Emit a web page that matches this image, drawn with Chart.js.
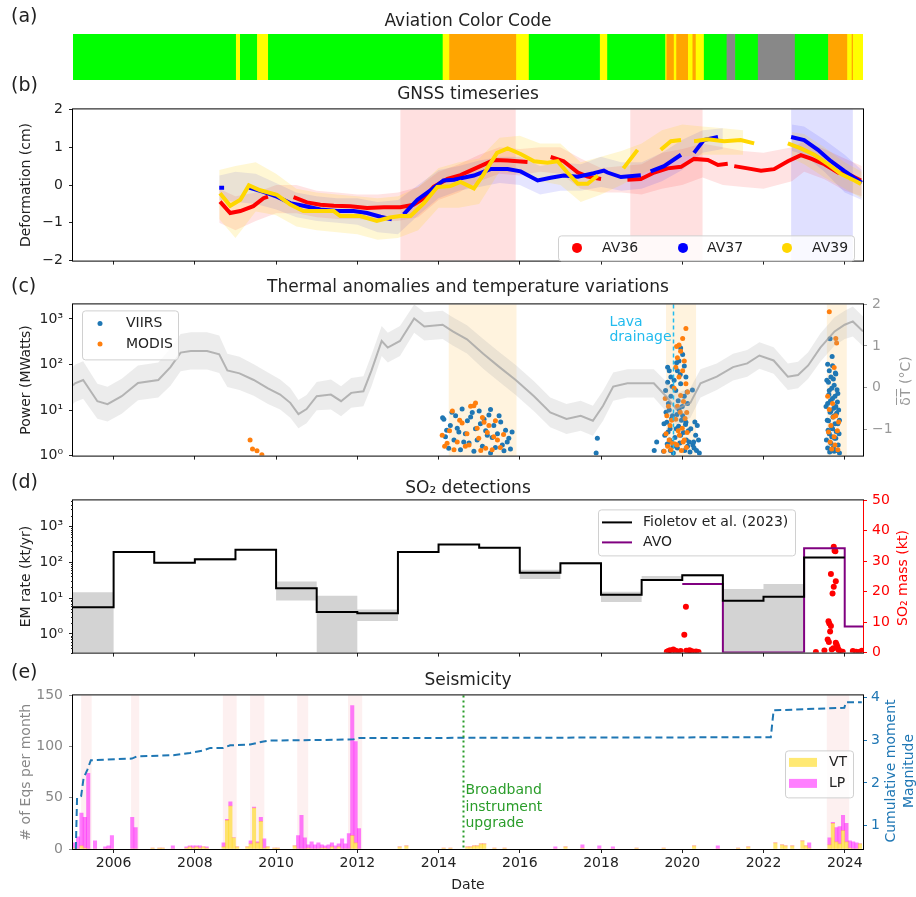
<!DOCTYPE html>
<html>
<head>
<meta charset="utf-8">
<script src="https://cdn.jsdelivr.net/npm/chart.js@4.4.1/dist/chart.umd.min.js"></script>
<style>
body { margin: 0; background: #fff; width: 916px; height: 897px; position: relative; overflow: hidden; font-family: 'DejaVu Sans', sans-serif; color: #222; }
canvas { position: absolute; left: 0; }
.ttl { position: absolute; left: 73px; width: 790px; text-align: center; font-size: 17px; line-height: 17px; white-space: nowrap; }
.pl { position: absolute; left: 11px; font-size: 19px; line-height: 19px; }
.rl { position: absolute; white-space: nowrap; font-size: 14px; line-height: 16px; transform: translate(-50%, -50%) rotate(-90deg); }
</style>
</head>
<body>
<canvas id="cA" width="916" height="90" style="top:0px"></canvas>
<canvas id="cB" width="916" height="180" style="top:95px"></canvas>
<canvas id="cC" width="916" height="180" style="top:290px"></canvas>
<canvas id="cD" width="916" height="181" style="top:486px"></canvas>
<canvas id="cE" width="916" height="216" style="top:681px"></canvas>

<div class="pl" style="top:6px">(a)</div>
<div class="pl" style="top:75px">(b)</div>
<div class="pl" style="top:276px">(c)</div>
<div class="pl" style="top:472px">(d)</div>
<div class="pl" style="top:662px">(e)</div>

<div class="ttl" style="top:12px">Aviation Color Code</div>
<div class="ttl" style="top:85px">GNSS timeseries</div>
<div class="ttl" style="top:278px">Thermal anomalies and temperature variations</div>
<div class="ttl" style="top:479px">SO₂ detections</div>
<div class="ttl" style="top:671px">Seismicity</div>

<div class="rl" style="left:905px;top:381px;color:#999">δ̅T̅ (°C)</div>
<div class="rl" style="left:902px;top:578px;color:#ff0000">SO₂ mass (kt)</div>
<div class="rl" style="left:890px;top:771px;color:#1f77b4">Cumulative moment</div>
<div class="rl" style="left:908px;top:771px;color:#1f77b4">Magnitude</div>

<script>
// shared time axis (decimal years)
const X_MIN = 2005.0, X_MAX = 2024.45;
const yearTicks = [2006, 2008, 2010, 2012, 2014, 2016, 2018, 2020, 2022, 2024];

// (a) aviation colour code periods
const accStart = [2005.0, 2009.02, 2009.12, 2009.54, 2009.81, 2014.11, 2014.27, 2015.92, 2016.23, 2017.98, 2018.16, 2019.59, 2019.62, 2019.80, 2019.86, 2020.15, 2020.26, 2020.34, 2020.54, 2021.10, 2021.31, 2021.87, 2022.78, 2023.60, 2024.07, 2024.18, 2024.21];
const accEnd   = [2009.02, 2009.12, 2009.54, 2009.81, 2014.11, 2014.27, 2015.92, 2016.23, 2017.98, 2018.16, 2019.59, 2019.62, 2019.80, 2019.86, 2020.15, 2020.26, 2020.34, 2020.54, 2021.10, 2021.31, 2021.87, 2022.78, 2023.60, 2024.07, 2024.18, 2024.21, 2024.47];
const accLevel = ['GREEN', 'YELLOW', 'GREEN', 'YELLOW', 'GREEN', 'YELLOW', 'ORANGE', 'YELLOW', 'GREEN', 'YELLOW', 'GREEN', 'YELLOW', 'ORANGE', 'YELLOW', 'ORANGE', 'YELLOW', 'ORANGE', 'YELLOW', 'GREEN', 'UNASSIGNED', 'GREEN', 'UNASSIGNED', 'GREEN', 'ORANGE', 'YELLOW', 'ORANGE', 'YELLOW'];

// (b) GNSS smoothed deformation (cm), null = no data
const av36Dates = [2008.62, 2008.87, 2009.12, 2009.44, 2009.69, 2009.80, 2010.10, 2010.43, 2010.76, 2011.09, 2011.42, 2011.83, 2012.24, 2012.65, 2013.06, 2013.39, 2013.64, 2013.88, 2014.22, 2014.54, 2015.03, 2015.36, 2015.70, 2016.19, 2016.45, 2016.76, 2017.08, 2017.43, 2017.67, 2018.00, 2018.30, 2018.65, 2018.98, 2019.31, 2019.64, 2019.97, 2020.29, 2020.63, 2020.88, 2021.12, 2021.20, 2021.28, 2021.61, 2021.94, 2022.26, 2022.60, 2022.92, 2023.17, 2023.50, 2023.84, 2024.16, 2024.40];
const av36Vals  = [-0.44, -0.74, -0.69, -0.56, -0.35, -0.31, null, -0.32, -0.46, -0.52, -0.55, -0.56, -0.61, -0.59, -0.59, -0.52, -0.35, -0.05, 0.16, 0.26, 0.50, 0.66, 0.65, 0.61, null, 0.74, 0.63, 0.33, 0.22, 0.16, null, 0.14, 0.16, 0.33, 0.44, 0.48, 0.69, 0.66, 0.53, 0.56, null, 0.50, 0.44, 0.38, 0.42, 0.63, 0.79, 0.70, 0.55, 0.33, 0.25, 0.12];
const av37Dates = [2008.60, 2008.72, 2008.80, 2009.33, 2009.69, 2010.02, 2010.35, 2010.67, 2011.09, 2011.50, 2011.91, 2012.24, 2012.57, 2012.85, 2012.95, 2013.14, 2013.48, 2013.80, 2014.12, 2014.38, 2014.87, 2015.28, 2015.70, 2016.02, 2016.44, 2016.76, 2017.08, 2017.43, 2017.82, 2018.07, 2018.16, 2018.49, 2018.98, 2019.10, 2019.22, 2019.55, 2019.97, 2020.10, 2020.29, 2020.53, 2020.88, 2021.00, 2022.68, 2023.00, 2023.34, 2023.66, 2023.98, 2024.33, 2024.42];
const av37Vals  = [-0.07, -0.07, null, -0.07, -0.18, -0.31, -0.48, -0.55, -0.65, -0.69, -0.69, -0.74, -0.84, -0.91, null, -0.78, -0.39, -0.14, 0.12, 0.14, 0.25, 0.42, 0.42, 0.36, 0.12, 0.19, 0.25, 0.22, 0.31, 0.38, 0.33, 0.21, 0.26, null, 0.36, 0.50, 0.80, null, 0.85, 1.19, 1.27, null, 1.27, 1.19, 0.93, 0.63, 0.38, 0.12, 0.06];
const av39Dates = [2008.62, 2008.87, 2009.12, 2009.33, 2009.61, 2010.02, 2010.35, 2010.67, 2011.00, 2011.42, 2011.58, 2012.07, 2012.48, 2012.80, 2013.06, 2013.31, 2013.64, 2013.97, 2014.29, 2014.54, 2014.87, 2015.11, 2015.44, 2015.70, 2016.02, 2016.35, 2016.68, 2016.93, 2017.17, 2017.43, 2017.67, 2017.92, 2018.10, 2018.55, 2018.90, 2019.10, 2019.47, 2019.72, 2019.97, 2020.10, 2020.29, 2020.63, 2021.03, 2021.44, 2021.77, 2022.00, 2022.60, 2022.92, 2023.25, 2023.59, 2023.91, 2024.24, 2024.40];
const av39Vals  = [-0.22, -0.55, -0.39, -0.01, -0.14, -0.26, -0.52, -0.69, -0.69, -0.69, -0.82, -0.82, -0.95, -0.86, -0.82, -0.82, -0.48, -0.05, -0.03, 0.08, -0.09, 0.29, 0.85, 0.97, 0.82, 0.63, 0.59, 0.63, 0.33, 0.03, 0.03, 0.25, null, 0.44, 0.93, null, 0.93, 1.16, 1.19, null, 1.16, 1.21, 1.16, 1.19, 1.10, null, 1.10, 0.97, 0.80, 0.55, 0.29, 0.12, 0.03];

// (b) spread of the daily GNSS solutions around each station
const gnssBandDates = [2008.6, 2009.0, 2009.5, 2010.0, 2010.5, 2011.0, 2011.5, 2012.0, 2012.5, 2013.0, 2013.5, 2014.0, 2014.5, 2015.0, 2015.5, 2016.0, 2016.5, 2017.0, 2017.5, 2018.0, 2018.5, 2019.0, 2019.5, 2020.0, 2020.5, 2021.0, 2021.5, 2022.0, 2022.7, 2023.0, 2023.5, 2024.0, 2024.42];
const av36Hi = [-0.1, -0.3, -0.2, 0.0, 0.0, -0.15, -0.2, -0.25, -0.25, -0.2, -0.05, 0.35, 0.55, 0.8, 1.0, 0.95, 1.0, 1.0, 0.7, 0.45, 0.5, 0.55, 0.85, 0.95, 1.1, 1.0, 0.9, 0.85, 1.0, 1.15, 0.95, 0.7, 0.5];
const av36Lo = [-1.0, -1.2, -0.95, -0.75, -0.75, -0.85, -0.9, -0.9, -0.95, -0.95, -0.85, -0.4, -0.2, 0.1, 0.3, 0.25, 0.35, 0.3, -0.1, -0.2, -0.2, -0.25, -0.1, 0.0, 0.2, 0.0, -0.05, -0.1, 0.1, 0.35, 0.15, -0.15, -0.3];
const av37Hi = [0.25, 0.35, 0.3, 0.05, -0.2, -0.3, -0.35, -0.35, -0.45, -0.4, 0.0, 0.4, 0.5, 0.65, 0.75, 0.75, 0.5, 0.6, 0.55, 0.75, 0.6, 0.6, 0.85, 1.2, 1.45, 1.5, null, null, 1.6, 1.55, 1.2, 0.8, 0.4];
const av37Lo = [-0.4, -0.45, -0.5, -0.65, -0.85, -0.95, -1.0, -1.05, -1.25, -1.3, -0.8, -0.35, -0.15, -0.05, 0.05, 0.0, -0.25, -0.15, -0.15, -0.05, -0.15, -0.1, 0.1, 0.4, 0.85, 0.95, null, null, 0.9, 0.8, 0.35, -0.2, -0.4];
const av39Hi = [0.4, 0.5, 0.6, 0.3, -0.1, -0.2, -0.25, -0.3, -0.35, -0.3, -0.05, 0.45, 0.6, 0.7, 1.25, 1.3, 1.1, 1.1, 0.6, 0.75, 0.9, 1.1, 1.45, 1.6, 1.55, 1.5, 1.45, null, 1.4, 1.35, 1.0, 0.6, 0.35];
const av39Lo = [-0.9, -1.4, -0.7, -0.8, -1.1, -1.2, -1.25, -1.3, -1.45, -1.4, -1.2, -0.6, -0.6, -0.5, 0.35, 0.3, 0.1, 0.0, -0.45, -0.25, 0.0, 0.3, 0.5, 0.75, 0.8, 0.8, 0.8, null, 0.7, 0.55, 0.2, -0.1, -0.35];

// (c) running temperature anomaly (deg C) and its spread
const dtDates = [2005.00, 2005.05, 2005.25, 2005.60, 2005.85, 2006.20, 2006.60, 2007.10, 2007.40, 2007.65, 2007.90, 2008.30, 2008.60, 2008.80, 2009.10, 2009.45, 2009.80, 2010.10, 2010.35, 2010.55, 2010.75, 2011.00, 2011.35, 2011.60, 2011.85, 2012.15, 2012.35, 2012.60, 2012.75, 2013.05, 2013.40, 2013.65, 2014.10, 2014.35, 2014.70, 2015.10, 2015.50, 2015.90, 2016.35, 2016.75, 2017.15, 2017.50, 2017.80, 2018.05, 2018.30, 2018.65, 2018.95, 2019.30, 2019.60, 2019.85, 2020.20, 2020.45, 2020.85, 2021.25, 2021.60, 2021.90, 2022.25, 2022.60, 2022.85, 2023.10, 2023.40, 2023.75, 2024.00, 2024.20, 2024.45];
const dtVals  = [0.05, 0.10, 0.18, -0.33, -0.40, -0.21, 0.11, 0.18, 0.49, 0.84, 0.88, 0.88, 0.80, 0.41, 0.34, 0.18, -0.02, -0.17, -0.37, -0.64, -0.52, -0.21, -0.17, -0.33, -0.13, -0.09, 0.41, 1.12, 0.96, 1.12, 1.66, 1.47, 1.51, 1.35, 1.16, 0.81, 0.49, 0.18, -0.21, -0.60, -0.76, -0.68, -0.80, -0.44, 0.02, 0.10, 0.10, 0.10, -0.21, -0.52, -0.37, 0.10, 0.26, 0.49, 0.58, 0.77, 0.65, 0.26, 0.30, 0.53, 0.96, 1.35, 1.51, 1.59, 1.35];
const dtHalf  = [0.45, 0.45, 0.45, 0.42, 0.42, 0.42, 0.42, 0.42, 0.45, 0.45, 0.45, 0.45, 0.45, 0.40, 0.40, 0.38, 0.38, 0.36, 0.36, 0.34, 0.34, 0.34, 0.36, 0.36, 0.36, 0.36, 0.38, 0.36, 0.36, 0.36, 0.34, 0.34, 0.34, 0.34, 0.34, 0.36, 0.36, 0.36, 0.36, 0.36, 0.36, 0.36, 0.36, 0.36, 0.34, 0.34, 0.34, 0.34, 0.36, 0.38, 0.36, 0.34, 0.32, 0.32, 0.32, 0.32, 0.32, 0.32, 0.32, 0.32, 0.34, 0.34, 0.34, 0.36, 0.36];

// (c) radiant power detections [date, MW]
const viirsPts = [
  [2014.10, 6.8], [2014.13, 6.3], [2014.17, 2.6], [2014.20, 3.6], [2014.25, 1.45], [2014.29, 4.6], [2014.33, 8.9], [2014.38, 2.2], [2014.42, 7.5], [2014.46, 4.0],
  [2014.50, 3.3], [2014.54, 1.34], [2014.58, 10.5], [2014.62, 2.0], [2014.66, 3.0], [2014.71, 5.8], [2014.75, 1.9], [2014.79, 7.0], [2014.83, 8.8], [2014.87, 1.24],
  [2014.91, 3.9], [2014.95, 2.2], [2015.00, 9.5], [2015.03, 5.0], [2015.08, 1.6], [2015.12, 6.3], [2015.16, 3.5], [2015.20, 2.8], [2015.24, 7.8], [2015.28, 10.3],
  [2015.28, 1.14], [2015.32, 2.5], [2015.36, 4.6], [2015.40, 1.5], [2015.45, 3.0], [2015.49, 7.5], [2015.53, 5.5], [2015.57, 1.7], [2015.61, 1.28], [2015.65, 3.6],
  [2015.69, 2.0], [2015.73, 2.4], [2015.77, 1.4], [2015.81, 3.3],
  [2017.88, 1.14], [2017.91, 2.4], [2019.31, 1.3], [2019.37, 2.0],
  [2019.54, 1.24], [2019.55, 5.0], [2019.57, 2.8], [2019.59, 27], [2019.60, 9], [2019.62, 5.4], [2019.63, 1.8], [2019.64, 87], [2019.64, 41], [2019.65, 3.3],
  [2019.66, 14], [2019.68, 73], [2019.68, 10], [2019.69, 2.2], [2019.70, 3.9], [2019.71, 1.3], [2019.72, 53], [2019.72, 20], [2019.73, 2.0], [2019.74, 6.5],
  [2019.75, 33], [2019.76, 7.5], [2019.77, 1.6], [2019.78, 1.14],
  [2019.80, 45], [2019.82, 2.5], [2019.84, 27], [2019.85, 3.9], [2019.86, 110], [2019.87, 8], [2019.88, 73], [2019.88, 1.46], [2019.90, 16], [2019.91, 4.4],
  [2019.92, 120], [2019.92, 10.3], [2019.94, 1.9], [2019.95, 60], [2019.96, 230], [2019.96, 38], [2019.96, 2.8], [2019.98, 6], [2020.00, 12], [2020.01, 166],
  [2020.01, 7.5], [2020.03, 3.2], [2020.05, 93], [2020.05, 20], [2020.06, 1.3], [2020.08, 4.8], [2020.09, 53], [2020.09, 5.4], [2020.10, 2.2], [2020.12, 25],
  [2020.13, 14], [2020.13, 1.6], [2020.15, 3.5], [2020.17, 2.0], [2020.19, 1.2], [2020.21, 3.9], [2020.25, 27.5], [2020.26, 1.7], [2020.28, 2.0], [2020.29, 1.46],
  [2020.31, 5.5], [2020.33, 2.8], [2020.35, 1.3], [2020.37, 4.6], [2020.40, 2.2], [2020.42, 1.14],
  [2023.54, 12], [2023.55, 2.2], [2023.56, 45], [2023.57, 6], [2023.58, 101], [2023.58, 14], [2023.58, 1.46], [2023.59, 3.6], [2023.60, 41], [2023.60, 5.8],
  [2023.61, 22], [2023.62, 73], [2023.62, 27], [2023.62, 3.0], [2023.63, 1.2], [2023.64, 9], [2023.64, 370], [2023.65, 16], [2023.66, 53], [2023.66, 9.5],
  [2023.66, 1.86], [2023.67, 4.4], [2023.68, 30], [2023.68, 2.6], [2023.69, 150], [2023.70, 94], [2023.70, 18], [2023.70, 3.9], [2023.71, 7], [2023.72, 1.5],
  [2023.72, 48], [2023.73, 11], [2023.74, 35], [2023.74, 7.5], [2023.74, 1.24], [2023.75, 2.4], [2023.76, 20], [2023.76, 5.0], [2023.77, 65], [2023.78, 12],
  [2023.78, 62], [2023.78, 2.4], [2023.79, 3.4], [2023.80, 8.5], [2023.80, 1.3], [2023.81, 28], [2023.82, 15], [2023.83, 23], [2023.83, 5.0], [2023.84, 1.7],
  [2023.85, 10], [2023.86, 3.0], [2023.87, 1.14], [2023.87, 6]
];
const modisPts = [
  [2009.36, 2.2], [2009.42, 1.39], [2009.53, 1.28], [2009.65, 1.05],
  [2014.09, 2.8], [2014.15, 1.6], [2014.21, 1.86], [2014.27, 3.5], [2014.34, 9.5], [2014.38, 1.34], [2014.46, 2.0], [2014.52, 6.0], [2014.58, 5.2], [2014.66, 1.6],
  [2014.70, 3.0], [2014.75, 1.7], [2014.79, 12.2], [2014.87, 12.5], [2014.91, 14.3], [2014.95, 4.0], [2014.99, 2.4], [2015.04, 1.3], [2015.08, 6.9], [2015.12, 5.4],
  [2015.16, 1.45], [2015.20, 3.2], [2015.24, 4.6], [2015.32, 1.34], [2015.36, 2.6], [2015.40, 5.8], [2015.45, 2.2], [2015.52, 1.5], [2015.60, 2.9],
  [2019.55, 1.24], [2019.58, 18], [2019.60, 3.0], [2019.62, 7.5], [2019.64, 1.6], [2019.66, 12.2], [2019.68, 2.2], [2019.70, 4.6], [2019.72, 1.34], [2019.74, 6],
  [2019.76, 1.86], [2019.80, 30], [2019.82, 1.8], [2019.84, 87], [2019.84, 6.3], [2019.86, 250], [2019.87, 1.7], [2019.88, 140], [2019.88, 12.2], [2019.90, 3.5],
  [2019.92, 270], [2019.92, 53], [2019.93, 2.8], [2019.95, 9], [2019.96, 195], [2019.96, 21], [2019.98, 1.3], [2020.00, 4.0], [2020.01, 375], [2020.01, 73],
  [2020.02, 2.0], [2020.03, 15.5], [2020.05, 120], [2020.05, 2.2], [2020.07, 6.5], [2020.09, 615], [2020.09, 38], [2020.10, 1.5], [2020.11, 8.8], [2020.12, 3.2],
  [2020.13, 25],
  [2023.58, 20], [2023.60, 3.3], [2023.62, 1440], [2023.62, 10.3], [2023.64, 2.0], [2023.66, 4.6], [2023.68, 1.4], [2023.70, 14], [2023.72, 7.0], [2023.74, 86],
  [2023.74, 2.6], [2023.76, 1.7], [2023.78, 375], [2023.78, 7.5], [2023.80, 295], [2023.82, 3.5], [2023.83, 1.34], [2023.85, 5.5]
];

// (d) yearly SO2 emission rate (kt/yr) with its uncertainty range
const emYears = [2005, 2006, 2007, 2008, 2009, 2010, 2011, 2012, 2013, 2014, 2015, 2016, 2017, 2018, 2019, 2020, 2021, 2022, 2023, 2024];
const emRate  = [5.5, 193, 97, 120, 224, 18.8, 4.1, 3.76, 193, 311, 253, 51, 94, 12.4, 32, 43, 8.4, 10.8, 135, 135];
const emLo    = [0.1, 185, 92, 108, 215, 8.5, 0.1, 2.3, 185, 300, 245, 34, 86, 7.8, 30, 40, 0.1, 0.1, 128, 128];
const emHi    = [14.5, 200, 100, 128, 232, 29, 11.5, 4.8, 200, 322, 262, 62, 100, 15, 41, 47, 18, 24.5, 140, 140];
// AVO yearly SO2 mass (kt)
const avoYears = [2020, 2021, 2022, 2023, 2024, 2024.45];
const avoMass  = [22.5, 0, 0, 34.3, 8.6, 8.6];
// individual SO2 mass detections (kt)
const so2Dates = [2019.62, 2019.66, 2019.70, 2019.74, 2019.78, 2019.84, 2019.90, 2019.96, 2020.05, 2020.09, 2020.10, 2020.14, 2020.18, 2020.22, 2020.28, 2020.34, 2020.40, 2023.29, 2023.50, 2023.58, 2023.60, 2023.61, 2023.62, 2023.64, 2023.66, 2023.66, 2023.68, 2023.70, 2023.72, 2023.73, 2023.73, 2023.75, 2023.77, 2023.78, 2023.78, 2023.80, 2023.82, 2023.84, 2023.86, 2023.90, 2023.95, 2024.20, 2024.28, 2024.35, 2024.42];
const so2Mass  = [0.3, 0.5, 0.8, 0.4, 1.0, 0.6, 0.3, 0.5, 5.9, 15.1, 0.6, 0.3, 0.8, 0.5, 0.3, 0.4, 0.2, 0.2, 0.7, 4.3, 10.3, 3.5, 9.6, 6.9, 8.7, 25.8, 1.0, 19.4, 1.4, 21.6, 34.8, 33.5, 33.3, 23.4, 3.2, 2.7, 1.9, 1.1, 0.7, 0.4, 0.3, 0.5, 0.3, 0.2, 0.6];

// (e) monthly earthquake counts (month centres)
const eqMonths = [2005.042, 2005.125, 2005.208, 2005.292, 2005.375, 2005.542, 2005.792, 2005.875, 2005.958, 2006.458, 2006.542, 2006.958, 2007.125, 2007.208, 2007.458, 2007.792, 2007.875, 2007.958, 2008.042, 2008.125, 2008.208, 2008.292, 2008.708, 2008.792, 2008.875, 2008.958, 2009.042, 2009.292, 2009.375, 2009.458, 2009.542, 2009.625, 2009.708, 2009.792, 2009.958, 2010.042, 2010.458, 2010.542, 2010.625, 2010.708, 2010.792, 2010.875, 2010.958, 2011.042, 2011.125, 2011.208, 2011.292, 2011.375, 2011.458, 2011.542, 2011.625, 2011.708, 2011.792, 2011.875, 2011.958, 2012.042, 2013.042, 2013.208, 2014.125, 2014.292, 2014.708, 2014.792, 2014.875, 2014.958, 2015.042, 2015.125, 2015.375, 2015.625, 2016.875, 2017.125, 2017.542, 2017.958, 2018.292, 2018.875, 2019.542, 2020.292, 2020.875, 2021.375, 2021.625, 2022.292, 2022.458, 2022.542, 2022.708, 2022.958, 2023.042, 2023.125, 2023.625, 2023.708, 2023.792, 2023.875, 2023.958, 2024.042, 2024.125, 2024.208, 2024.292, 2024.375];
const vtCounts = [1, 0, 3, 1, 0, 0, 0, 0, 0, 0, 0, 1, 1, 1, 0, 1, 2, 1, 2, 1, 2, 1, 2, 28, 42, 11, 2, 2, 5, 40, 6, 27, 1, 2, 1, 1, 3, 0, 0, 0, 1, 0, 0, 0, 1, 1, 0, 2, 0, 2, 0, 0, 0, 13, 6, 0, 2, 3, 1, 1, 2, 2, 3, 3, 5, 5, 1, 1, 0, 2, 1, 0, 0, 1, 1, 3, 0, 1, 2, 6, 4, 3, 3, 8, 3, 1, 4, 25, 7, 5, 18, 7, 1, 0, 0, 5];
const lpCounts = [5, 12, 32, 30, 74, 8, 2, 3, 13, 31, 21, 0, 0, 0, 3, 1, 1, 2, 1, 2, 0, 1, 4, 1, 4, 0, 0, 0, 3, 1, 1, 4, 9, 0, 0, 0, 0, 13, 33, 11, 3, 7, 4, 6, 3, 2, 4, 4, 3, 3, 10, 5, 15, 127, 99, 20, 0, 0, 0, 0, 0, 0, 0, 0, 0, 0, 0, 0, 2, 0, 3, 3, 2, 0, 0, 0, 3, 0, 0, 0, 0, 0, 0, 0, 0, 5, 7, 1, 14, 17, 15, 18, 7, 7, 6, 0];
// cumulative moment magnitude
const mwDates = [2005.07, 2005.10, 2005.20, 2005.26, 2005.35, 2005.44, 2006.45, 2006.57, 2007.47, 2007.88, 2008.21, 2008.38, 2008.70, 2008.87, 2009.36, 2009.69, 2009.82, 2011.42, 2011.91, 2012.04, 2022.18, 2022.25, 2023.99, 2024.03, 2024.42];
const mwVals  = [0.45, 1.65, 1.69, 2.11, 2.30, 2.53, 2.57, 2.62, 2.65, 2.70, 2.76, 2.82, 2.82, 2.88, 2.90, 2.97, 2.99, 3.01, 3.02, 3.05, 3.07, 3.70, 3.76, 3.89, 3.89];

// event markers
const lavaDrainage = 2019.76;
const broadbandUpgrade = 2014.61;

// ---------------------------------------------------------------
Chart.defaults.font.family = "'DejaVu Sans', sans-serif";
Chart.defaults.font.size = 14;
Chart.defaults.color = '#222';

const levelColors = { GREEN: '#00ff00', YELLOW: '#ffff00', ORANGE: '#ffa500', UNASSIGNED: '#888888' };
const supLabel = { 1: '10⁰', 10: '10¹', 100: '10²', 1000: '10³' };
const minus = v => (v < 0 ? '−' + Math.abs(v) : String(v));
const pts = (xs, ys) => xs.map((x, i) => ({ x: x, y: ys[i] }));
const pairs = arr => arr.map(p => ({ x: p[0], y: p[1] }));

const baseOpts = {
  responsive: false,
  animation: false,
  events: [],
  plugins: { legend: { display: false }, tooltip: { enabled: false } }
};

function xAxis(h, labelled) {
  return {
    type: 'linear', min: X_MIN, max: X_MAX, offset: false,
    afterBuildTicks: s => { s.ticks = yearTicks.map(v => ({ value: v })); },
    afterFit: s => { s.height = h; },
    grid: { display: true, drawOnChartArea: false, drawTicks: true, tickLength: 4, color: '#222', offset: false },
    border: { display: false },
    ticks: { display: labelled, color: '#222', padding: 2, maxRotation: 0, autoSkip: false, callback: v => String(v) },
    title: labelled ? { display: true, text: 'Date', color: '#222', padding: { top: 0, bottom: 3 } } : { display: false }
  };
}

function sideAxis(side, color, extra) {
  const ax = {
    position: side,
    afterFit: s => { s.width = side === 'left' ? 73 : 53; },
    grid: { display: true, drawOnChartArea: false, drawTicks: true, tickLength: 4, color: color },
    border: { display: false },
    ticks: { color: color, padding: side === 'left' ? 6 : 4 }
  };
  return Object.assign(ax, extra);
}

function yTitle(text, color) {
  return { display: true, text: text, color: color, padding: { top: 18, bottom: 0 } };
}

// spans, marker lines, frame and hand-placed legends
function extras(cfg) {
  return {
    id: 'extras',
    beforeDatasetsDraw(chart) {
      const { ctx, chartArea: a, scales: { x } } = chart;
      ctx.save();
      (cfg.spans || []).forEach(s => {
        const x0 = x.getPixelForValue(s[0]), x1 = x.getPixelForValue(s[1]);
        ctx.fillStyle = s[2];
        ctx.fillRect(x0, a.top, x1 - x0, a.bottom - a.top);
      });
      ctx.restore();
    },
    afterDatasetsDraw(chart) {
      const { ctx, chartArea: a, scales: { x } } = chart;
      ctx.save();
      (cfg.vlines || []).forEach(v => {
        const px = Math.round(x.getPixelForValue(v.x)) + 0.5;
        ctx.strokeStyle = v.color;
        ctx.lineWidth = v.width;
        ctx.setLineDash(v.dash);
        ctx.beginPath();
        ctx.moveTo(px, a.top);
        ctx.lineTo(px, a.bottom);
        ctx.stroke();
        ctx.setLineDash([]);
        if (v.lines) {
          ctx.font = "14px 'DejaVu Sans'";
          ctx.fillStyle = v.color;
          ctx.textBaseline = 'middle';
          ctx.textAlign = 'left';
          let tx = px + v.dx;
          if (v.dx < 0) tx = px + v.dx - Math.max(...v.lines.map(t => ctx.measureText(t).width));
          v.lines.forEach((t, i) => ctx.fillText(t, tx, a.top + v.dy[i]));
        }
      });
      ctx.restore();
    },
    afterDraw(chart) {
      const { ctx, chartArea: a, scales } = chart;
      ctx.save();
      if (cfg.frame) {
        ctx.strokeStyle = '#000';
        ctx.lineWidth = 1;
        ctx.strokeRect(a.left - 0.5, a.top - 0.5, a.right - a.left + 1, a.bottom - a.top + 1);
      }
      if (cfg.rightSpine) {
        ctx.strokeStyle = cfg.rightSpine;
        ctx.beginPath();
        ctx.moveTo(a.right + 0.5, a.top);
        ctx.lineTo(a.right + 0.5, a.bottom);
        ctx.stroke();
      }
      if (cfg.minorLog) {
        const y = scales.y;
        ctx.strokeStyle = '#222';
        ctx.lineWidth = 1;
        for (let k = -1; k <= 3; k++) {
          for (let m = 2; m <= 9; m++) {
            const v = m * Math.pow(10, k);
            if (v < y.min || v > y.max) continue;
            const py = Math.round(y.getPixelForValue(v)) + 0.5;
            ctx.beginPath();
            ctx.moveTo(a.left - 2, py);
            ctx.lineTo(a.left, py);
            ctx.stroke();
          }
        }
      }
      if (cfg.legend) drawLegend(ctx, a, cfg.legend);
      ctx.restore();
    }
  };
}

function drawLegend(ctx, a, lg) {
  const left = lg.right != null ? a.right - lg.right - lg.w : a.left + lg.left;
  const top = a.top + lg.top;
  ctx.fillStyle = 'rgba(255,255,255,0.8)';
  ctx.strokeStyle = '#d0d0d0';
  ctx.lineWidth = 1;
  ctx.beginPath();
  ctx.roundRect(left + 0.5, top + 0.5, lg.w, lg.h, 3);
  ctx.fill();
  ctx.stroke();
  ctx.font = "14px 'DejaVu Sans'";
  ctx.textBaseline = 'middle';
  ctx.textAlign = 'left';
  lg.items.forEach(it => {
    const mx = left + it.mx, my = top + it.my;
    if (it.kind === 'dot') {
      ctx.fillStyle = it.color;
      ctx.beginPath();
      ctx.arc(mx, my, it.r, 0, Math.PI * 2);
      ctx.fill();
    } else if (it.kind === 'line') {
      ctx.strokeStyle = it.color;
      ctx.lineWidth = 2;
      ctx.beginPath();
      ctx.moveTo(mx, my);
      ctx.lineTo(mx + 30, my);
      ctx.stroke();
    } else {
      ctx.fillStyle = it.color;
      ctx.fillRect(mx, my - 4.5, 28, 9);
    }
    ctx.fillStyle = '#222';
    ctx.fillText(it.label, left + it.tx, my);
  });
}

// ---------------- (a) aviation colour code ----------------
new Chart(document.getElementById('cA'), {
  type: 'bar',
  data: {
    labels: ['code'],
    datasets: [{
      data: accStart.map((s, i) => ({ x: [s, accEnd[i]], y: 'code' })),
      backgroundColor: accLevel.map(l => levelColors[l]),
      borderWidth: 0,
      barPercentage: 1,
      categoryPercentage: 1,
      grouped: false
    }]
  },
  options: Object.assign({}, baseOpts, {
    indexAxis: 'y',
    layout: { padding: { left: 73, right: 53, top: 34, bottom: 10 } },
    scales: {
      x: { type: 'linear', min: X_MIN, max: X_MAX, offset: false, display: false },
      y: { type: 'category', display: false }
    }
  })
});

// ---------------- (b) GNSS ----------------
const RED = '#ff0000', BLUE = '#0000ff', GOLD = '#ffd700';
function gnssLine(xs, ys, color) {
  return { data: pts(xs, ys), borderColor: color, borderWidth: 4, pointRadius: 0, fill: false, spanGaps: false };
}
function gnssBand(ys, color, fill) {
  return { data: pts(gnssBandDates, ys), borderWidth: 0, pointRadius: 0, backgroundColor: color, fill: fill, spanGaps: false };
}
new Chart(document.getElementById('cB'), {
  type: 'line',
  data: {
    datasets: [
      gnssLine(av39Dates, av39Vals, GOLD),
      gnssLine(av37Dates, av37Vals, BLUE),
      gnssLine(av36Dates, av36Vals, RED),
      gnssBand(av39Hi, 'rgba(255,205,0,0.17)', '+1'),
      gnssBand(av39Lo, 'rgba(255,205,0,0.17)', false),
      gnssBand(av37Hi, 'rgba(0,0,255,0.10)', '+1'),
      gnssBand(av37Lo, 'rgba(0,0,255,0.10)', false),
      gnssBand(av36Hi, 'rgba(255,0,0,0.11)', '+1'),
      gnssBand(av36Lo, 'rgba(255,0,0,0.11)', false)
    ]
  },
  options: Object.assign({}, baseOpts, {
    layout: { padding: { top: 12, right: 53 } },
    scales: {
      x: xAxis(12, false),
      y: sideAxis('left', '#222', {
        min: -2, max: 2,
        ticks: { color: '#222', padding: 6, stepSize: 1, callback: minus },
        title: yTitle('Deformation (cm)', '#222')
      })
    }
  }),
  plugins: [extras({
    frame: true,
    spans: [[2013.06, 2015.90, 'rgba(255,0,0,0.12)'], [2018.72, 2020.50, 'rgba(255,0,0,0.12)'], [2022.68, 2024.20, 'rgba(0,0,255,0.12)']],
    legend: {
      right: 9, top: 126, w: 296, h: 25,
      items: [
        { kind: 'dot', r: 5, color: RED, mx: 19, my: 12.5, tx: 44, label: 'AV36' },
        { kind: 'dot', r: 5, color: BLUE, mx: 125, my: 12.5, tx: 149, label: 'AV37' },
        { kind: 'dot', r: 5, color: GOLD, mx: 229, my: 12.5, tx: 254, label: 'AV39' }
      ]
    }
  })]
});

// ---------------- (c) thermal ----------------
const VIIRS = '#1f77b4', MODIS = '#ff7f0e';
new Chart(document.getElementById('cC'), {
  type: 'line',
  data: {
    datasets: [
      { data: pts(dtDates, dtVals), yAxisID: 'y2', borderColor: 'rgba(160,160,160,0.75)', borderWidth: 2, pointRadius: 0, fill: false },
      { data: pts(dtDates, dtVals.map((v, i) => v + dtHalf[i])), yAxisID: 'y2', borderWidth: 0, pointRadius: 0, backgroundColor: 'rgba(170,170,170,0.22)', fill: '+1' },
      { data: pts(dtDates, dtVals.map((v, i) => v - dtHalf[i])), yAxisID: 'y2', borderWidth: 0, pointRadius: 0, fill: false },
      { data: pairs(modisPts), yAxisID: 'y', showLine: false, pointRadius: 2.5, pointBorderWidth: 0, pointBackgroundColor: MODIS },
      { data: pairs(viirsPts), yAxisID: 'y', showLine: false, pointRadius: 2.5, pointBorderWidth: 0, pointBackgroundColor: VIIRS }
    ]
  },
  options: Object.assign({}, baseOpts, {
    layout: { padding: { top: 12 } },
    scales: {
      x: xAxis(12, false),
      y: sideAxis('left', '#222', {
        type: 'logarithmic', min: 1, max: 2090,
        afterBuildTicks: s => { s.ticks = [1, 10, 100, 1000].map(v => ({ value: v })); },
        ticks: { color: '#222', padding: 6, callback: v => supLabel[v] },
        title: yTitle('Power (MWatts)', '#222')
      }),
      y2: sideAxis('right', '#999', {
        min: -1.64, max: 2.0,
        afterBuildTicks: s => { s.ticks = [-1, 0, 1, 2].map(v => ({ value: v })); },
        ticks: { color: '#999', padding: 5, callback: minus }
      })
    }
  }),
  plugins: [extras({
    frame: true,
    spans: [[2014.25, 2015.92, 'rgba(255,165,0,0.13)'], [2019.60, 2020.34, 'rgba(255,165,0,0.13)'], [2023.56, 2024.05, 'rgba(255,165,0,0.13)']],
    vlines: [{ x: lavaDrainage, color: '#22bbee', width: 1.5, dash: [4, 3], lines: ['Lava', 'drainage'], dx: -2, dy: [18, 33] }],
    legend: {
      left: 9, top: 6, w: 96, h: 49,
      items: [
        { kind: 'dot', r: 2.5, color: VIIRS, mx: 18, my: 13, tx: 44, label: 'VIIRS' },
        { kind: 'dot', r: 2.5, color: MODIS, mx: 18, my: 33.5, tx: 44, label: 'MODIS' }
      ]
    }
  })]
});

// ---------------- (d) SO2 ----------------
// stepped 'before' keeps each yearly value until the next year's edge
new Chart(document.getElementById('cD'), {
  type: 'line',
  data: {
    datasets: [
      { data: pts(emYears, emRate), yAxisID: 'y', stepped: 'before', borderColor: '#000', borderWidth: 2, pointRadius: 0, fill: false },
      { data: pts(avoYears, avoMass), yAxisID: 'y2', stepped: 'before', borderColor: '#800080', borderWidth: 2, pointRadius: 0, fill: false, clip: 0 },
      { data: pts(so2Dates, so2Mass), yAxisID: 'y2', showLine: false, pointRadius: 3, pointBorderWidth: 0, pointBackgroundColor: '#ff0000' },
      { data: pts(emYears, emHi), yAxisID: 'y', stepped: 'before', borderWidth: 0, pointRadius: 0, backgroundColor: '#d3d3d3', fill: '+1' },
      { data: pts(emYears, emLo), yAxisID: 'y', stepped: 'before', borderWidth: 0, pointRadius: 0, fill: false }
    ]
  },
  options: Object.assign({}, baseOpts, {
    layout: { padding: { top: 12 } },
    scales: {
      x: xAxis(12, false),
      y: sideAxis('left', '#222', {
        type: 'logarithmic', min: 0.32, max: 5300,
        afterBuildTicks: s => { s.ticks = [1, 10, 100, 1000].map(v => ({ value: v })); },
        ticks: { color: '#222', padding: 6, callback: v => supLabel[v] },
        title: yTitle('EM rate (kt/yr)', '#222')
      }),
      y2: sideAxis('right', '#ff0000', {
        min: 0, max: 50,
        ticks: { color: '#ff0000', padding: 5, stepSize: 10 }
      })
    }
  }),
  plugins: [extras({
    frame: true,
    rightSpine: '#ff0000',
    minorLog: true,
    legend: {
      right: 68, top: 9, w: 197, h: 46,
      items: [
        { kind: 'line', color: '#000', mx: 4, my: 13, tx: 45, label: 'Fioletov et al. (2023)' },
        { kind: 'line', color: '#800080', mx: 4, my: 33, tx: 45, label: 'AVO' }
      ]
    }
  })]
});

// ---------------- (e) seismicity ----------------
const VT_COLOR = 'rgba(255,215,0,0.55)', LP_COLOR = 'rgba(255,0,255,0.5)';
new Chart(document.getElementById('cE'), {
  type: 'bar',
  data: {
    datasets: [
      { type: 'line', data: pts(mwDates, mwVals), yAxisID: 'y2', borderColor: '#1f77b4', borderWidth: 2, borderDash: [7, 4], pointRadius: 0, fill: false },
      { label: 'VT', data: pts(eqMonths, vtCounts), yAxisID: 'y', backgroundColor: VT_COLOR, borderWidth: 0, barThickness: 3.4 },
      { label: 'LP', data: pts(eqMonths, lpCounts), yAxisID: 'y', backgroundColor: LP_COLOR, borderWidth: 0, barThickness: 3.4 }
    ]
  },
  options: Object.assign({}, baseOpts, {
    layout: { padding: { top: 12 } },
    scales: {
      x: Object.assign(xAxis(48, true), { stacked: true }),
      y: sideAxis('left', '#888', {
        min: 0, max: 150, stacked: true,
        ticks: { color: '#888', padding: 6, stepSize: 50 },
        title: yTitle('# of Eqs per month', '#888')
      }),
      y2: sideAxis('right', '#1f77b4', {
        min: 0.45, max: 4.05,
        afterBuildTicks: s => { s.ticks = [1, 2, 3, 4].map(v => ({ value: v })); },
        ticks: { color: '#1f77b4', padding: 4 }
      })
    }
  }),
  plugins: [extras({
    frame: true,
    spans: [[2005.20, 2005.46, 'rgba(230,60,60,0.08)'], [2006.43, 2006.63, 'rgba(230,60,60,0.08)'], [2008.69, 2009.03, 'rgba(230,60,60,0.08)'], [2009.36, 2009.71, 'rgba(230,60,60,0.08)'], [2010.52, 2010.79, 'rgba(230,60,60,0.08)'], [2011.77, 2012.12, 'rgba(230,60,60,0.08)'], [2023.56, 2024.11, 'rgba(230,60,60,0.08)']],
    vlines: [{ x: broadbandUpgrade, color: '#2a9d2a', width: 2, dash: [2, 3], lines: ['Broadband', 'instrument', 'upgrade'], dx: 2, dy: [95, 111.5, 128] }],
    legend: {
      right: 10, top: 55, w: 68, h: 47,
      items: [
        { kind: 'patch', color: VT_COLOR, mx: 4, my: 12, tx: 44, label: 'VT' },
        { kind: 'patch', color: LP_COLOR, mx: 4, my: 33, tx: 44, label: 'LP' }
      ]
    }
  })]
});
</script>
</body>
</html>
